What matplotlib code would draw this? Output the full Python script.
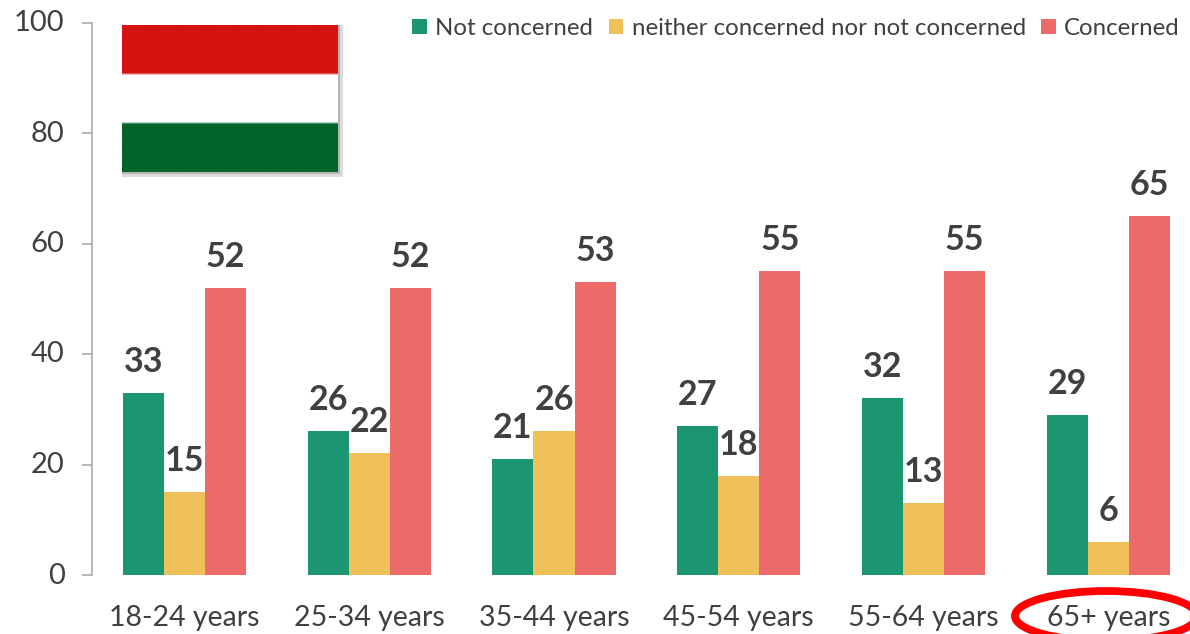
import numpy as np
import matplotlib
matplotlib.use('Agg')
import matplotlib.pyplot as plt
from matplotlib.patches import Ellipse, Rectangle
from matplotlib.transforms import ScaledTranslation

plt.rcParams['font.family'] = ['Lato', 'DejaVu Sans']

categories = ['18-24 years', '25-34 years', '35-44 years', '45-54 years', '55-64 years', '65+ years']
not_concerned = [33, 26, 21, 27, 32, 29]
neither = [15, 22, 26, 18, 13, 6]
concerned = [52, 52, 53, 55, 55, 65]
series_names = ['Not concerned', 'neither concerned nor not concerned', 'Concerned']
series_colors = ['#1b9670', '#f0c05a', '#ec6a6a']
flag_colors = ['#d61210', '#ffffff', '#03652a']
text_color = '#404040'

W, H = 1190, 634
fig = plt.figure(figsize=(W / 100, H / 100), dpi=100)

# axes runs a little past the right edge, same as the picture
ax = fig.add_axes([92 / W, 1 - 575 / H, (1200.8 - 92) / W, (575 - 22.5) / H])

x = np.arange(len(categories))
bar_w = 0.222
all_series = [not_concerned, neither, concerned]
for i, vals in enumerate(all_series):
    pos = x + (i - 1) * bar_w
    ax.bar(pos, vals, bar_w, color=series_colors[i], label=series_names[i])
    for p, v in zip(pos, vals):
        ax.annotate(str(v), (p, v), xytext=(0, 15), textcoords='offset pixels', ha='center', va='bottom',
                    fontsize=24.5, fontweight='bold', color=text_color)

ax.set_xlim(-0.5, 5.5)
ax.set_ylim(0, 100)
ax.set_yticks(range(0, 101, 20))
ax.set_xticks(x, categories)
ax.tick_params(axis='y', labelsize=21, labelcolor=text_color, color='#a6a6a6', length=7.2, width=1.1, pad=12.5)
ax.tick_params(axis='x', labelsize=20.5, labelcolor=text_color, length=0, pad=21.5)

# nudge the y labels up 2 px
nudge = ScaledTranslation(0, 2 / 100, fig.dpi_scale_trans)
for lab in ax.get_yticklabels():
    lab.set_transform(lab.get_transform() + nudge)

for s in ['top', 'right', 'bottom']:
    ax.spines[s].set_visible(False)
ax.spines['left'].set_color('#a6a6a6')
ax.spines['left'].set_linewidth(1.1)

# legend along the top right
ax.legend(loc='upper right', bbox_to_anchor=(1180 / W, 1 - 18 / H), bbox_transform=fig.transFigure, ncol=3,
          frameon=False, fontsize=17.3, labelcolor=text_color, handlelength=0.6, handleheight=0.6,
          handletextpad=0.35, columnspacing=0.65, borderaxespad=0, borderpad=0)

# soft grey shadow behind the flag, right and bottom sides
fig.add_artist(Rectangle((122 / W, 1 - 177 / H), 221 / W, 152 / H, transform=fig.transFigure,
                         facecolor='#dcdcdc', edgecolor='none', zorder=1))
fig.add_artist(Rectangle((122 / W, 1 - 174 / H), 218 / W, 149 / H, transform=fig.transFigure,
                         facecolor='#b4b4b4', edgecolor='none', zorder=1.1))

# flag
flag_ax = fig.add_axes([122 / W, 1 - 172 / H, 216 / W, 147 / H], zorder=2)
flag_rgb = np.array([matplotlib.colors.to_rgb(c) for c in flag_colors]).reshape(3, 1, 3)
flag_ax.imshow(np.repeat(np.repeat(flag_rgb, 20, axis=0), 8, axis=1), aspect='auto', interpolation='bilinear')
flag_ax.axis('off')

# red ring round the last label
ring = Ellipse((1106 / W, 18 / H), 182 / W, 50 / H, transform=fig.transFigure, fill=False,
               edgecolor='#ff0000', linewidth=5.6, clip_on=False)
fig.add_artist(ring)

fig.savefig('out.png', dpi=100)
